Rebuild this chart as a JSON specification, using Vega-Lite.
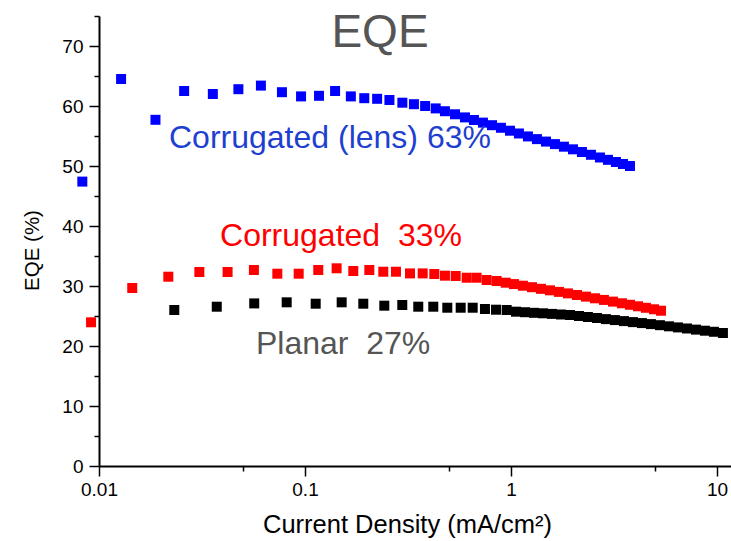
{
  "$schema": "https://vega.github.io/schema/vega-lite/v6.json",
  "width": 632,
  "height": 450,
  "autosize": "none",
  "padding": {"left": 99, "top": 16, "right": 0, "bottom": 75},
  "background": "white",
  "config": {"font": "Liberation Sans", "view": {"stroke": null}},
  "title": {"text": "EQE", "fontSize": 46, "fontWeight": "normal", "color": "#555555", "anchor": "middle", "frame": "group", "offset": -31, "baseline": "alphabetic", "dx": -35, "dy": 47},
  "datasets": {
    "pts": [
      {"device": "lens", "j": 0.0083, "eqe": 47.4}, {"device": "lens", "j": 0.0128, "eqe": 64.5}, {"device": "lens", "j": 0.0188, "eqe": 57.7}, {"device": "lens", "j": 0.0259, "eqe": 62.5}, {"device": "lens", "j": 0.0357, "eqe": 62.0}, {"device": "lens", "j": 0.0475, "eqe": 62.8}, {"device": "lens", "j": 0.0611, "eqe": 63.4}, {"device": "lens", "j": 0.0773, "eqe": 62.3}, {"device": "lens", "j": 0.0957, "eqe": 61.6}, {"device": "lens", "j": 0.117, "eqe": 61.7}, {"device": "lens", "j": 0.14, "eqe": 62.5}, {"device": "lens", "j": 0.167, "eqe": 61.6}, {"device": "lens", "j": 0.194, "eqe": 61.3}, {"device": "lens", "j": 0.224, "eqe": 61.2}, {"device": "lens", "j": 0.257, "eqe": 61.0}, {"device": "lens", "j": 0.297, "eqe": 60.55}, {"device": "lens", "j": 0.338, "eqe": 60.3}, {"device": "lens", "j": 0.383, "eqe": 60.0}, {"device": "lens", "j": 0.431, "eqe": 59.6}, {"device": "lens", "j": 0.478, "eqe": 59.13}, {"device": "lens", "j": 0.535, "eqe": 58.62}, {"device": "lens", "j": 0.598, "eqe": 58.1}, {"device": "lens", "j": 0.661, "eqe": 57.67}, {"device": "lens", "j": 0.731, "eqe": 57.23}, {"device": "lens", "j": 0.809, "eqe": 56.8}, {"device": "lens", "j": 0.894, "eqe": 56.37}, {"device": "lens", "j": 0.989, "eqe": 55.88}, {"device": "lens", "j": 1.093, "eqe": 55.42}, {"device": "lens", "j": 1.209, "eqe": 54.93}, {"device": "lens", "j": 1.337, "eqe": 54.48}, {"device": "lens", "j": 1.479, "eqe": 54.07}, {"device": "lens", "j": 1.635, "eqe": 53.65}, {"device": "lens", "j": 1.808, "eqe": 53.22}, {"device": "lens", "j": 2.0, "eqe": 52.78}, {"device": "lens", "j": 2.211, "eqe": 52.33}, {"device": "lens", "j": 2.445, "eqe": 51.87}, {"device": "lens", "j": 2.704, "eqe": 51.42}, {"device": "lens", "j": 2.957, "eqe": 51.03}, {"device": "lens", "j": 3.233, "eqe": 50.67}, {"device": "lens", "j": 3.497, "eqe": 50.33}, {"device": "lens", "j": 3.782, "eqe": 50.0},
      {"device": "corrugated", "j": 0.00915, "eqe": 23.95}, {"device": "corrugated", "j": 0.0145, "eqe": 29.67}, {"device": "corrugated", "j": 0.0217, "eqe": 31.55}, {"device": "corrugated", "j": 0.0307, "eqe": 32.33}, {"device": "corrugated", "j": 0.0421, "eqe": 32.33}, {"device": "corrugated", "j": 0.0565, "eqe": 32.67}, {"device": "corrugated", "j": 0.0734, "eqe": 32.05}, {"device": "corrugated", "j": 0.0932, "eqe": 32.05}, {"device": "corrugated", "j": 0.116, "eqe": 32.67}, {"device": "corrugated", "j": 0.1424, "eqe": 32.95}, {"device": "corrugated", "j": 0.1716, "eqe": 32.5}, {"device": "corrugated", "j": 0.2053, "eqe": 32.67}, {"device": "corrugated", "j": 0.24, "eqe": 32.38}, {"device": "corrugated", "j": 0.2765, "eqe": 32.38}, {"device": "corrugated", "j": 0.3234, "eqe": 32.1}, {"device": "corrugated", "j": 0.3727, "eqe": 32.1}, {"device": "corrugated", "j": 0.4244, "eqe": 32.0}, {"device": "corrugated", "j": 0.478, "eqe": 31.72}, {"device": "corrugated", "j": 0.539, "eqe": 31.67}, {"device": "corrugated", "j": 0.6095, "eqe": 31.38}, {"device": "corrugated", "j": 0.681, "eqe": 31.38}, {"device": "corrugated", "j": 0.762, "eqe": 31.0}, {"device": "corrugated", "j": 0.852, "eqe": 30.83}, {"device": "corrugated", "j": 0.943, "eqe": 30.55}, {"device": "corrugated", "j": 1.034, "eqe": 30.32}, {"device": "corrugated", "j": 1.143, "eqe": 30.05}, {"device": "corrugated", "j": 1.265, "eqe": 29.8}, {"device": "corrugated", "j": 1.398, "eqe": 29.53}, {"device": "corrugated", "j": 1.546, "eqe": 29.28}, {"device": "corrugated", "j": 1.71, "eqe": 29.02}, {"device": "corrugated", "j": 1.891, "eqe": 28.77}, {"device": "corrugated", "j": 2.091, "eqe": 28.5}, {"device": "corrugated", "j": 2.312, "eqe": 28.23}, {"device": "corrugated", "j": 2.557, "eqe": 27.95}, {"device": "corrugated", "j": 2.828, "eqe": 27.68}, {"device": "corrugated", "j": 3.127, "eqe": 27.4}, {"device": "corrugated", "j": 3.457, "eqe": 27.12}, {"device": "corrugated", "j": 3.782, "eqe": 26.87}, {"device": "corrugated", "j": 4.136, "eqe": 26.62}, {"device": "corrugated", "j": 4.521, "eqe": 26.37}, {"device": "corrugated", "j": 4.946, "eqe": 26.12}, {"device": "corrugated", "j": 5.35, "eqe": 25.88},
      {"device": "planar", "j": 0.0232, "eqe": 26.0}, {"device": "planar", "j": 0.0373, "eqe": 26.55}, {"device": "planar", "j": 0.0567, "eqe": 27.1}, {"device": "planar", "j": 0.0815, "eqe": 27.28}, {"device": "planar", "j": 0.1127, "eqe": 27.05}, {"device": "planar", "j": 0.1507, "eqe": 27.28}, {"device": "planar", "j": 0.1919, "eqe": 27.05}, {"device": "planar", "j": 0.2427, "eqe": 26.72}, {"device": "planar", "j": 0.2967, "eqe": 26.83}, {"device": "planar", "j": 0.3548, "eqe": 26.55}, {"device": "planar", "j": 0.4196, "eqe": 26.55}, {"device": "planar", "j": 0.4908, "eqe": 26.38}, {"device": "planar", "j": 0.57, "eqe": 26.38}, {"device": "planar", "j": 0.6518, "eqe": 26.38}, {"device": "planar", "j": 0.7477, "eqe": 26.17}, {"device": "planar", "j": 0.8457, "eqe": 26.05}, {"device": "planar", "j": 0.953, "eqe": 26.0}, {"device": "planar", "j": 1.058, "eqe": 25.72}, {"device": "planar", "j": 1.17, "eqe": 25.63}, {"device": "planar", "j": 1.293, "eqe": 25.53}, {"device": "planar", "j": 1.43, "eqe": 25.45}, {"device": "planar", "j": 1.581, "eqe": 25.35}, {"device": "planar", "j": 1.748, "eqe": 25.25}, {"device": "planar", "j": 1.934, "eqe": 25.17}, {"device": "planar", "j": 2.138, "eqe": 25.0}, {"device": "planar", "j": 2.364, "eqe": 24.83}, {"device": "planar", "j": 2.615, "eqe": 24.67}, {"device": "planar", "j": 2.891, "eqe": 24.48}, {"device": "planar", "j": 3.197, "eqe": 24.32}, {"device": "planar", "j": 3.535, "eqe": 24.15}, {"device": "planar", "j": 3.909, "eqe": 23.98}, {"device": "planar", "j": 4.323, "eqe": 23.82}, {"device": "planar", "j": 4.78, "eqe": 23.65}, {"device": "planar", "j": 5.287, "eqe": 23.47}, {"device": "planar", "j": 5.848, "eqe": 23.28}, {"device": "planar", "j": 6.466, "eqe": 23.1}, {"device": "planar", "j": 7.15, "eqe": 22.92}, {"device": "planar", "j": 7.907, "eqe": 22.73}, {"device": "planar", "j": 8.743, "eqe": 22.55}, {"device": "planar", "j": 9.669, "eqe": 22.37}, {"device": "planar", "j": 10.69, "eqe": 22.17}
    ],
    "labels": [
      {"kind": "lens", "label": "Corrugated (lens) 63%", "tx": 0.02187, "ty": 53.0},
      {"kind": "corrugated", "label": "Corrugated\u00a0 33%", "tx": 0.0387, "ty": 36.67},
      {"kind": "planar", "label": "Planar\u00a0 27%", "tx": 0.0578, "ty": 18.67}
    ]
  },
  "layer": [
    {
      "data": {"name": "pts"},
      "mark": {"type": "point", "shape": "square", "filled": true, "size": 100, "opacity": 1},
      "encoding": {
        "x": {"field": "j", "type": "quantitative",
          "scale": {"type": "log", "domain": [0.01, 11.7], "nice": false},
          "axis": {"values": [0.01, 0.1, 1, 10], "format": "~g", "labelFontSize": 19, "labelColor": "#000000", "labelFlush": false, "labelPadding": 4, "tickSize": 10, "tickWidth": 1.5, "tickColor": "#000000", "domainColor": "#000000", "domainWidth": 2, "grid": false, "title": "Current Density (mA/cm²)", "titleFontSize": 25.5, "titleFontWeight": "normal", "titleColor": "#000000", "titlePadding": 13, "titleX": 308}},
        "y": {"field": "eqe", "type": "quantitative",
          "scale": {"domain": [0, 75], "nice": false, "zero": true},
          "axis": {"values": [0, 10, 20, 30, 40, 50, 60, 70], "labelFontSize": 19, "labelColor": "#000000", "labelPadding": 6, "tickSize": 10, "tickWidth": 1.5, "tickColor": "#000000", "domainColor": "#000000", "domainWidth": 2, "grid": false, "title": "EQE (%)", "titleFontSize": 20.5, "titleFontWeight": "normal", "titleColor": "#000000", "titlePadding": 19, "titleY": 234}},
        "color": {"field": "device", "type": "nominal",
          "scale": {"domain": ["lens", "corrugated", "planar"], "range": ["#0000ff", "#ff0000", "#000000"]},
          "legend": null}
      }
    },
    {
      "data": {"name": "labels"},
      "mark": {"type": "text", "align": "left", "baseline": "alphabetic", "fontSize": 32},
      "encoding": {
        "x": {"field": "tx", "type": "quantitative",
          "axis": {"orient": "bottom", "values": [0.05, 0.5, 5], "labels": false, "domain": false, "tickSize": 5, "tickWidth": 1.5, "tickColor": "#000000", "grid": false, "title": null}},
        "y": {"field": "ty", "type": "quantitative",
          "axis": {"orient": "left", "values": [5, 15, 25, 35, 45, 55, 65, 75], "labels": false, "domain": false, "tickSize": 5, "tickWidth": 1.5, "tickColor": "#000000", "grid": false, "title": null}},
        "text": {"field": "label", "type": "nominal"},
        "color": {"field": "kind", "type": "nominal",
          "scale": {"domain": ["lens", "corrugated", "planar"], "range": ["#1f3fd0", "#ff0000", "#555555"]},
          "legend": null}
      }
    }
  ],
  "resolve": {"axis": {"x": "independent", "y": "independent"}, "scale": {"color": "independent"}}
}
